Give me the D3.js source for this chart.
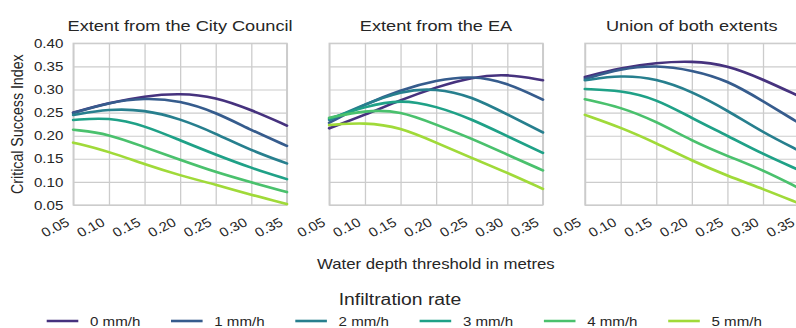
<!DOCTYPE html>
<html>
<head>
<meta charset="utf-8">
<script src="https://cdn.jsdelivr.net/npm/d3@7"></script>
<style>
  body { margin: 0; background: #fff; }
  svg { display: block; font-family: "Liberation Sans", Arial, sans-serif; }
</style>
</head>
<body>
<svg></svg>
<script>
/* Water depth thresholds (x) */
let thresholds = [0.05, 0.10, 0.15, 0.20, 0.25, 0.30, 0.35]
let yTicks = [0.05, 0.10, 0.15, 0.20, 0.25, 0.30, 0.35, 0.40]
let rates = ['0 mm/h', '1 mm/h', '2 mm/h', '3 mm/h', '4 mm/h', '5 mm/h']
let panelTitles = ['Extent from the City Council', 'Extent from the EA', 'Union of both extents']

/* Critical success index, one row per infiltration rate */
let cityCouncil = [
  [0.250, 0.271, 0.286, 0.292, 0.284, 0.256, 0.222],
  [0.249, 0.272, 0.282, 0.276, 0.251, 0.212, 0.178],
  [0.245, 0.258, 0.256, 0.237, 0.205, 0.168, 0.140],
  [0.234, 0.240, 0.222, 0.190, 0.159, 0.130, 0.106],
  [0.213, 0.204, 0.175, 0.148, 0.121, 0.099, 0.078],
  [0.185, 0.166, 0.138, 0.114, 0.094, 0.072, 0.052]
]
let environmentAgency = [
  [0.216, 0.245, 0.277, 0.305, 0.327, 0.334, 0.320],
  [0.228, 0.268, 0.299, 0.320, 0.330, 0.315, 0.278],
  [0.234, 0.268, 0.297, 0.303, 0.285, 0.246, 0.207],
  [0.237, 0.263, 0.279, 0.264, 0.236, 0.199, 0.163],
  [0.239, 0.255, 0.254, 0.224, 0.194, 0.159, 0.125],
  [0.223, 0.229, 0.218, 0.185, 0.152, 0.120, 0.085]
]
let unionExtents = [
  [0.327, 0.347, 0.358, 0.362, 0.353, 0.322, 0.286],
  [0.323, 0.345, 0.353, 0.342, 0.320, 0.275, 0.228],
  [0.320, 0.331, 0.324, 0.296, 0.255, 0.207, 0.168],
  [0.301, 0.298, 0.280, 0.238, 0.200, 0.160, 0.126],
  [0.279, 0.262, 0.231, 0.189, 0.156, 0.126, 0.087],
  [0.245, 0.218, 0.184, 0.146, 0.113, 0.085, 0.054]
]
let panelData = [cityCouncil, environmentAgency, unionExtents]

window.addEventListener('DOMContentLoaded', () => {
  let svgWidth = 796
  let svgHeight = 328
  let stretch = 1.18          // figure is wider than tall text suggests
  let panelLeft = [73.3, 329.3, 585]
  let panelWidth = 213.5
  let top = 43.3
  let bottom = 205
  let textColor = '#262626'
  let gridColor = '#cccccc'

  let color = i => d3.interpolateViridis((i + 1) / 7)

  let svg = d3.select('svg')
      .attr('width', svgWidth)
      .attr('height', svgHeight)

  let root = svg.append('g')
      .attr('transform', `scale(${stretch},1)`)

  let yScale = d3.scaleLinear()
                  .domain([0.05, 0.40])
                  .range([bottom, top])

  panelData.forEach((series, p) => {
    let x0 = panelLeft[p] / stretch
    let x1 = (panelLeft[p] + panelWidth) / stretch
    let xScale = d3.scaleLinear()
                    .domain([0.05, 0.35])
                    .range([x0, x1])

    let g = root.append('g')

    /* Horizontal grid (+ y labels on first panel) */
    let yAxis = d3.axisLeft(yScale)
                  .tickValues(yTicks)
                  .tickSize(-(x1 - x0))
                  .tickPadding(10 / stretch)
                  .tickFormat(p === 0 ? d3.format('.2f') : () => '')
    g.append('g')
        .attr('transform', `translate(${x0},0)`)
        .call(yAxis)
        .call(a => a.select('.domain').remove())
        .call(a => a.selectAll('line').attr('stroke', gridColor).attr('stroke-width', 1.1))
        .call(a => a.selectAll('text')
          .attr('fill', textColor)
          .style('font-size', '12.8px'))

    /* Vertical grid + rotated x labels */
    let xAxis = d3.axisBottom(xScale)
                  .tickValues(thresholds)
                  .tickSize(-(bottom - top))
                  .tickFormat(d3.format('.2f'))
    g.append('g')
        .attr('transform', `translate(0,${bottom})`)
        .call(xAxis)
        .call(a => a.select('.domain').remove())
        .call(a => a.selectAll('line').attr('stroke', gridColor).attr('stroke-width', 1.1))
        .call(a => a.selectAll('text')
          .attr('fill', textColor)
          .attr('x', 0)
          .attr('y', 0)
          .attr('dy', 0)
          .attr('transform', `translate(${-3.4 / stretch},20) rotate(-30)`)
          .style('text-anchor', 'end')
          .style('font-size', '12.8px'))

    /* Frame */
    g.append('rect')
        .attr('x', x0)
        .attr('y', top)
        .attr('width', x1 - x0)
        .attr('height', bottom - top)
        .attr('fill', 'none')
        .attr('stroke', gridColor)
        .attr('stroke-width', 1.3)

    /* Lines (smoothed like the original plot) */
    let line = d3.line()
                  .x((d, i) => xScale(thresholds[i]))
                  .y(d => yScale(d))
                  .curve(d3.curveBasis)

    g.selectAll('.csi')
      .data(series)
      .enter()
      .append('path')
        .classed('csi', true)
        .attr('d', line)
        .attr('fill', 'none')
        .attr('stroke', (d, i) => color(i))
        .attr('stroke-width', 2.6)
        .attr('stroke-linecap', 'round')

    /* Title */
    g.append('text')
        .attr('x', (x0 + x1) / 2)
        .attr('y', 31.5)
        .text(panelTitles[p])
        .attr('fill', textColor)
        .style('font-size', '15.4px')
        .style('text-anchor', 'middle')
  })

  /* Label for y-axis */
  root.append('text')
      .attr('transform', `translate(${23.3 / stretch},${(top + bottom) / 2}) rotate(-90)`)
      .text('Critical Success Index')
      .attr('fill', textColor)
      .style('font-size', '14.2px')
      .style('text-anchor', 'middle')

  /* Label for x-axis */
  root.append('text')
      .attr('x', (panelLeft[0] + panelLeft[2] + panelWidth) / 2 / stretch)
      .attr('y', 269)
      .text('Water depth threshold in metres')
      .attr('fill', textColor)
      .style('font-size', '14.2px')
      .style('text-anchor', 'middle')

  /* Legend */
  root.append('text')
      .attr('x', 400 / stretch)
      .attr('y', 305.5)
      .text('Infiltration rate')
      .attr('fill', textColor)
      .style('font-size', '16.4px')
      .style('text-anchor', 'middle')

  let legendStart = 46.7
  let legendStep = 124.3
  let items = root.selectAll('.legendItem')
                  .data(rates)
                  .enter()
                  .append('g')
                    .classed('legendItem', true)
                    .attr('transform', (d, i) => `translate(${(legendStart + i * legendStep) / stretch},0)`)

  items.append('line')
      .attr('x1', 0)
      .attr('x2', 31.6 / stretch)
      .attr('y1', 321)
      .attr('y2', 321)
      .attr('stroke', (d, i) => color(i))
      .attr('stroke-width', 2.6)

  items.append('text')
      .attr('x', 43.3 / stretch)
      .attr('y', 326.5)
      .text(d => d)
      .attr('fill', textColor)
      .style('font-size', '12.8px')
})
</script>
</body>
</html>
